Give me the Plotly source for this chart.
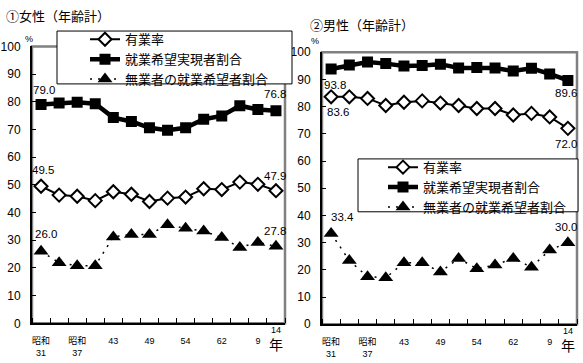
import plotly.graph_objects as go

# ---------------- data ----------------
years = ["昭和31", "34", "昭和37", "40", "43", "46", "49", "52", "54", "57", "62", "平成4", "9", "14"]
tick_pos = [0, 2, 4, 6, 8, 10, 12]
tick_labels = ["昭和<br>31", "昭和<br>37", "43", "49", "54", "62", "9"]
last_label = "14"
year_unit = "年"

names = ["有業率", "就業希望実現者割合", "無業者の就業希望者割合"]

f_yugyo = [49.5, 46.3, 45.9, 44.3, 47.5, 46.6, 44.0, 45.2, 45.6, 48.6, 48.3, 51.0, 50.2, 47.9]
f_jitsugen = [79.0, 79.6, 79.8, 79.3, 74.3, 72.9, 70.6, 69.7, 70.6, 73.7, 74.9, 78.6, 77.2, 76.8]
f_mugyo = [26.0, 21.9, 20.8, 20.8, 31.2, 32.1, 32.1, 35.6, 34.3, 33.3, 31.0, 27.4, 29.2, 27.8]

m_yugyo = [83.6, 83.6, 83.0, 80.4, 81.6, 82.1, 81.3, 80.4, 79.3, 79.3, 76.9, 77.5, 76.2, 72.0]
m_jitsugen = [93.8, 95.3, 96.4, 95.8, 94.9, 95.1, 95.6, 94.2, 94.4, 94.2, 93.1, 94.1, 92.0, 89.6]
m_mugyo = [33.4, 23.4, 17.5, 17.1, 22.6, 22.6, 19.2, 24.2, 20.4, 21.8, 24.2, 21.0, 27.3, 30.0]

titles = ["①女性（年齢計）", "②男性（年齢計）"]

# ---------------- figure ----------------
W, H = 583, 363
FONT = "Liberation Sans, Arial, Noto Sans CJK JP, sans-serif"
JFONT = "Noto Sans CJK JP, sans-serif"

def px_x(p):
    return p / W

def px_y(p):
    return 1 - p / H

x_idx = list(range(len(years)))

fig = go.Figure()

def add_series(xa, ya, yug, jit, mug, legend):
    fig.add_trace(go.Scatter(
        x=x_idx, y=yug, name=names[0], xaxis=xa, yaxis=ya, legend=legend,
        mode="lines+markers", line=dict(color="black", width=2),
        marker=dict(symbol="diamond", size=10, color="white", line=dict(color="black", width=2)),
        hovertext=years))
    fig.add_trace(go.Scatter(
        x=x_idx, y=jit, name=names[1], xaxis=xa, yaxis=ya, legend=legend,
        mode="lines+markers", line=dict(color="black", width=4.5),
        marker=dict(symbol="square", size=11, color="black"),
        hovertext=years))
    fig.add_trace(go.Scatter(
        x=x_idx, y=mug, name=names[2], xaxis=xa, yaxis=ya, legend=legend,
        mode="lines+markers", line=dict(color="black", width=1.5, dash="2px,6px"),
        marker=dict(symbol="triangle-up", size=13, color="black"),
        hovertext=years))

add_series("x", "y", f_yugyo, f_jitsugen, f_mugyo, "legend")
add_series("x2", "y2", m_yugyo, m_jitsugen, m_mugyo, "legend2")

panels = [
    dict(x=(32, 285), y=(329, 41)),
    dict(x=(322, 577), y=(330, 47)),
]

def xaxis_cfg(dom):
    return dict(
        domain=[px_x(dom[0]), px_x(dom[1])], range=[-0.5, 13.5],
        showline=True, linecolor="black", linewidth=2, mirror=False,
        showgrid=False, zeroline=False, fixedrange=True,
        tickmode="array", tickvals=tick_pos, ticktext=tick_labels,
        ticks="", ticklabelstandoff=8,
        tickfont=dict(family=FONT, size=9, color="black"),
        minor=dict(tickmode="linear", tick0=-0.5, dtick=1, ticks="inside",
                   ticklen=5, tickwidth=1, tickcolor="black", showgrid=False),
    )

def yaxis_cfg(dom, anchor):
    return dict(
        domain=[px_y(dom[0]), px_y(dom[1])], range=[0, 100], anchor=anchor,
        showline=True, linecolor="black", linewidth=2,
        showgrid=False, zeroline=False, fixedrange=True,
        tickmode="linear", tick0=0, dtick=10,
        ticks="inside", ticklen=4, tickcolor="black", ticklabelstandoff=7,
        tickfont=dict(family=FONT, size=12, color="black"),
    )

fig.update_layout(
    xaxis=dict(xaxis_cfg(panels[0]["x"]), anchor="y"),
    yaxis=yaxis_cfg(panels[0]["y"], "x"),
    xaxis2=dict(xaxis_cfg(panels[1]["x"]), anchor="y2"),
    yaxis2=yaxis_cfg(panels[1]["y"], "x2"),
)

shapes = []
# gray plot-area borders
for i, p in enumerate(panels):
    xr = "x domain" if i == 0 else "x2 domain"
    yr = "y domain" if i == 0 else "y2 domain"
    shapes.append(dict(type="rect", xref=xr, yref=yr, x0=0, x1=1, y0=0, y1=1,
                       line=dict(color="#808080", width=2.5), layer="below"))
# legend boxes
for (x0, x1, y0, y1) in [(57, 292, 25, 80), (358, 578, 158, 213)]:
    shapes.append(dict(type="rect", xref="paper", yref="paper",
                       x0=px_x(x0), x1=px_x(x1), y0=px_y(y1), y1=px_y(y0),
                       line=dict(color="black", width=1), fillcolor="white", layer="above"))

legend_common = dict(
    bgcolor="rgba(0,0,0,0)", borderwidth=0, xanchor="left", yanchor="top",
    font=dict(family=JFONT, size=13, color="black"), itemclick=False, itemdoubleclick=False,
)

annotations = []
# panel titles
annotations.append(dict(text=titles[0], xref="paper", yref="paper", x=px_x(4), y=px_y(9),
                        xanchor="left", yanchor="middle", showarrow=False,
                        font=dict(family=JFONT, size=13, color="black")))
annotations.append(dict(text=titles[1], xref="paper", yref="paper", x=px_x(308), y=px_y(18),
                        xanchor="left", yanchor="middle", showarrow=False,
                        font=dict(family=JFONT, size=13, color="black")))
# % units
for (xx, yy) in [(29, 33), (315, 35)]:
    annotations.append(dict(text="%", xref="paper", yref="paper", x=px_x(xx), y=px_y(yy),
                            xanchor="center", yanchor="middle", showarrow=False,
                            font=dict(family=FONT, size=9, color="black")))
# last tick "14" and "年"
for i, (xa, base) in enumerate([("x", 329), ("x2", 330)]):
    annotations.append(dict(text=last_label, xref=xa, yref="paper", x=13, y=px_y(base + 7),
                            xanchor="center", yanchor="middle", showarrow=False,
                            font=dict(family=FONT, size=9, color="black")))
    annotations.append(dict(text=year_unit, xref=xa, yref="paper", x=13, y=px_y(base + 22),
                            xanchor="center", yanchor="middle", showarrow=False,
                            font=dict(family=JFONT, size=14, color="black")))

def val_label(xa, ya, idx, series, yshift, xshift):
    annotations.append(dict(text=f"{series[idx]:.1f}", xref=xa, yref=ya, x=idx, y=series[idx],
                            xanchor="center", yanchor="middle", showarrow=False,
                            xshift=xshift, yshift=yshift,
                            font=dict(family=FONT, size=11.5, color="black")))

last = len(years) - 1
# female labels
val_label("x", "y", 0, f_jitsugen, 15, 3)
val_label("x", "y", last, f_jitsugen, 17, -1)
val_label("x", "y", 0, f_yugyo, 16, 2)
val_label("x", "y", last, f_yugyo, 15, -1)
val_label("x", "y", 0, f_mugyo, 17, 5)
val_label("x", "y", last, f_mugyo, 15, -1)
# male labels
val_label("x2", "y2", 0, m_jitsugen, -16, 4)
val_label("x2", "y2", last, m_jitsugen, -13, -2)
val_label("x2", "y2", 0, m_yugyo, -15, 7)
val_label("x2", "y2", last, m_yugyo, -16, -2)
val_label("x2", "y2", 0, m_mugyo, 16, 11)
val_label("x2", "y2", last, m_mugyo, 16, -2)

fig.update_layout(
    width=W, height=H, margin=dict(l=0, r=0, t=0, b=0),
    paper_bgcolor="white", plot_bgcolor="white",
    font=dict(family=FONT, color="black"),
    showlegend=True,
    legend=dict(legend_common, x=px_x(85), y=px_y(18)),
    legend2=dict(legend_common, x=px_x(383), y=px_y(151)),
    shapes=shapes, annotations=annotations,
)

fig.write_html("out.html", config={"displayModeBar": False},
               post_script="document.body.style.margin='0px';document.body.style.overflow='hidden';")
